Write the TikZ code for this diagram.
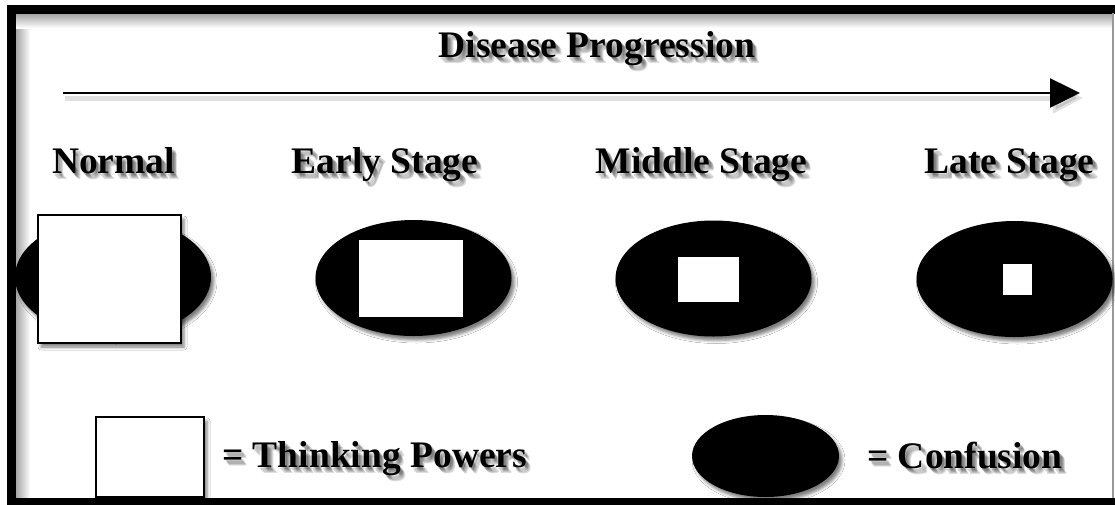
\documentclass[tikz,border=0pt]{standalone}
\usepackage{fontspec}
\setmainfont{Liberation Serif}
\usetikzlibrary{shapes.geometric,shadows.blur,arrows.meta,calc}

% bold serif label with a soft grey drop shadow
\newcommand\softlabel[4]{%
  \foreach \d in {0,1,2,3,4}{%
    \node[lbl, text=black, opacity=0.13, anchor=#3]
      at ($(#2)+(2+0.8*\d,2.5+1.0*\d)$) {#4};
  }%
  \node[lbl, anchor=#3] (#1) at (#2) {#4};
}

\tikzset{
  lbl/.style={font=\fontsize{37.5}{40}\selectfont\bfseries, inner sep=0pt},
  softshadow/.style={blur shadow={shadow xshift=3pt, shadow yshift=-4pt,
      shadow blur radius=3pt, shadow opacity=50}},
  confusion/.style={ellipse, fill=black, draw=none, inner sep=0pt,
      minimum width=196, minimum height=116, softshadow},
  thinking/.style={rectangle, fill=white, draw=black, line width=1.5pt,
      inner sep=0pt, softshadow},
}

\begin{document}
\begin{tikzpicture}[x=1pt,y=-1pt]
\useasboundingbox (0,0) rectangle (1115,504);
\begin{scope}
\clip (0,0) rectangle (1115,504);
\fill[white] (0,0) rectangle (1115,504);

% soft inner shadow along the frame
\shade[left color=gray!75, right color=white] (15,13) rectangle (30,499);
\shade[top color=gray!75, bottom color=white] (15,13) rectangle (1112,28);

% frame
\draw[line width=9pt] (1125,9) -- (11,9) -- (11,502.5) -- (1125,502.5);
\draw[gray!80, line width=1.2pt] (1113,13) -- (1113,498);

% title and progression arrow
\softlabel{title}{597,57}{base}{Disease Progression}
\coordinate (arrstart) at (63,93);
\coordinate (arrend) at (1080,93);
\draw[black, opacity=0.12, line width=5pt, -{Triangle[length=30pt,width=30pt]}]
  ($(arrstart)+(2,5)$) -- ($(arrend)+(3,5)$);
\draw[line width=2.5pt, -{Triangle[length=30pt,width=29pt]}] (arrstart) -- (arrend);

% stage headings
\softlabel{hNormal}{113.5,173}{base}{Normal}
\softlabel{hEarly}{385,173}{base}{Early Stage}
\softlabel{hMiddle}{701.5,173}{base}{Middle Stage}
\softlabel{hLate}{1009.5,173}{base}{Late Stage}

% stages: confusion grows, thinking powers shrink
\node[confusion, minimum height=120] (cNormal) at (113,277) {};
\node[thinking, minimum width=143, minimum height=128] (tNormal) at (109.5,279) {};

\node[confusion] (cEarly) at (413.5,278) {};
\node[thinking, minimum width=106, minimum height=79] (tEarly) at (411,278.5) {};

\node[confusion] (cMiddle) at (713.5,278.5) {};
\node[thinking, minimum width=63, minimum height=47] (tMiddle) at (708.5,279.5) {};

\node[confusion] (cLate) at (1014.5,279) {};
\node[thinking, minimum width=31, minimum height=33] (tLate) at (1017.5,279.5) {};

% legend
\node[thinking, minimum width=108, minimum height=80] (legBox) at (150,457) {};
\softlabel{legThinking}{222,467}{base west}{= Thinking Powers}
\node[confusion, minimum width=147, minimum height=82] (legEll) at (765.5,456) {};
\softlabel{legConfusion}{867,468}{base west}{= Confusion}
\end{scope}
\end{tikzpicture}
\end{document}
